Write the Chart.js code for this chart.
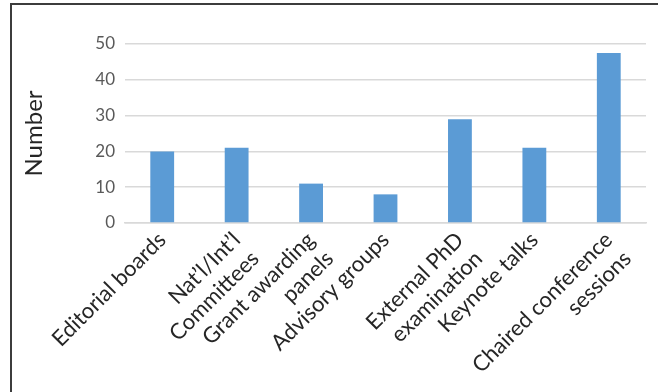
<!DOCTYPE html>
<html>
<head>
<meta charset="utf-8">
<script src="https://cdn.jsdelivr.net/npm/chart.js@4"></script>
<style>
  html, body { margin: 0; padding: 0; background: #fff; overflow: hidden; }
  #wrap { position: relative; width: 658px; height: 392px; }
  #frame { position: absolute; left: 10px; top: 3px; width: 700px; height: 450px; border: 2px solid #3c3c3c; }
  #barChart { position: absolute; left: 0; top: 0; }
</style>
</head>
<body>
<div id="wrap">
  <div id="frame"></div>
  <canvas id="barChart" width="658" height="392"></canvas>
</div>
<script>
// --------------------------------------------------- DATA
const categories = [
  'Editorial boards',
  ['Nat\u2019l/Int\u2019l', 'Committees'],
  ['Grant awarding', 'panels'],
  'Advisory groups',
  ['External PhD', 'examination'],
  'Keynote talks',
  ['Chaired conference', 'sessions']
]
const counts = [20, 21, 11, 8, 29, 21, 47.5]
const yTicks = [0, 10, 20, 30, 40, 50]

// --------------------------------------------------- CHART
const barChart = document.getElementById('barChart')

const displayBarChart = new Chart(barChart, {
  type: 'bar',
  data: {
    labels: categories,
    datasets: [{
      label: 'Number',
      data: counts,
      backgroundColor: '#5b9bd5',
      borderWidth: 0,
      barPercentage: 0.32,
      categoryPercentage: 1
    }]
  },
  options: {
    responsive: false,
    animation: false,
    layout: {
      padding: { top: 44, right: 12, left: 0, bottom: 0 }
    },
    plugins: {
      legend: { display: false },
      tooltip: { enabled: false }
    },
    scales: {
      x: {
        grid: { display: false, drawTicks: false },
        border: { color: '#d9d9d9', width: 1.5 },
        ticks: {
          minRotation: 45,
          maxRotation: 45,
          autoSkip: false,
          padding: 4,
          color: '#262626',
          font: { family: 'Lato', size: 22 }
        },
        afterFit: function (scale) { scale.height = 169 }
      },
      y: {
        min: 0,
        max: 50,
        afterBuildTicks: function (scale) { scale.ticks = yTicks.map(v => ({ value: v })) },
        grid: { color: '#d9d9d9', lineWidth: 1.5, drawTicks: false },
        border: { display: false },
        ticks: {
          padding: 10,
          color: '#595959',
          font: { family: 'Lato', size: 17 }
        },
        title: {
          display: true,
          text: 'Number',
          color: '#262626',
          font: { family: 'Lato', size: 24 },
          padding: { top: 20, bottom: 0 }
        },
        afterFit: function (scale) { scale.width = 125 }
      }
    }
  }
})
</script>
</body>
</html>
